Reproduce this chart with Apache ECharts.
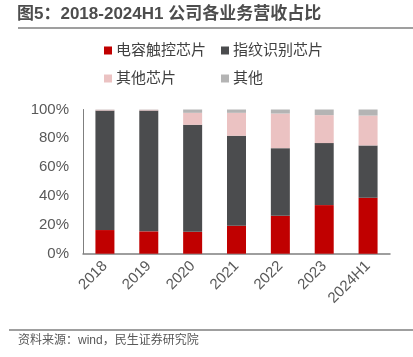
<!DOCTYPE html>
<html><head><meta charset="utf-8">
<script src="https://cdn.jsdelivr.net/npm/echarts@6/dist/echarts.min.js"></script>
<style>html,body{margin:0;padding:0;background:#fff}#c{width:413px;height:357px}</style>
</head><body><div id="c"></div>
<script>
const categories = ['2018','2019','2020','2021','2022','2023','2024H1'];
const touchChip = [16.4, 15.5, 15.2, 19.4, 26.3, 33.7, 38.8];
const fingerprintChip = [82.9, 83.8, 74.2, 62.4, 46.9, 43.0, 36.3];
const otherChip = [0.5, 0.5, 8.3, 15.9, 24.0, 19.4, 20.7];
const other = [0.2, 0.2, 2.3, 2.3, 2.8, 3.9, 4.2];
const seriesNames = ['电容触控芯片','指纹识别芯片','其他芯片','其他'];
const yTicks = [0,20,40,60,80,100];

const FF = '"Liberation Sans", Arial, "Noto Sans CJK SC", sans-serif';
const colors = ['#C00000','#4B4C4E','#EBC2C2','#B4B4B4'];
const chart = echarts.init(document.getElementById('c'), null, {renderer:'canvas'});
function leg(name, left, top){
  return {data:[name], left:left, top:top, itemWidth:8, itemHeight:8, itemGap:0,
    icon:'rect', padding:0, textStyle:{fontSize:15, color:'#404040', fontFamily:FF, padding:[0,0,0,-1]}};
}
const dataArr = [touchChip, fingerprintChip, otherChip, other];
chart.setOption({
  animation:false,
  color:colors,
  textStyle:{fontFamily:FF},
  title:{text:'图5：2018-2024H1 公司各业务营收占比', left:17, top:6, padding:0,
    textStyle:{fontSize:17, fontWeight:'bold', color:'#4D4D4D', fontFamily:FF}},
  graphic:[
    {type:'line', shape:{x1:18,y1:28,x2:413,y2:28}, style:{stroke:'#7F7F7F', lineWidth:1.5}},
    {type:'line', shape:{x1:9,y1:330,x2:413,y2:330}, style:{stroke:'#7F7F7F', lineWidth:1.5}},
    {type:'text', left:18, top:335, style:{text:'资料来源：wind，民生证券研究院', fontSize:12, fill:'#595959', fontFamily:FF}}
  ],
  legend:[leg(seriesNames[0],104,43), leg(seriesNames[1],221,43), leg(seriesNames[2],104,71), leg(seriesNames[3],221,71)],
  grid:{left:83, right:23, top:109.5, bottom:103.3},
  xAxis:{type:'category', data:categories,
    axisLine:{lineStyle:{color:'#7F7F7F', width:1.5}}, axisTick:{show:false},
    axisLabel:{rotate:45, fontSize:15, color:'#595959', margin:10, interval:0, fontFamily:FF}},
  yAxis:{type:'value', min:0, max:100, interval:20,
    axisLine:{show:true, lineStyle:{color:'#7F7F7F', width:1}}, axisTick:{show:false},
    splitLine:{show:false},
    axisLabel:{fontSize:15, color:'#595959', margin:14, fontFamily:FF,
      formatter:v=> yTicks.includes(v) ? v+'%' : ''}},
  series: seriesNames.map((n,i)=>({name:n, type:'bar', stack:'a', barWidth:19, data:dataArr[i],
    itemStyle:{color:colors[i]}}))
});
</script></body></html>
